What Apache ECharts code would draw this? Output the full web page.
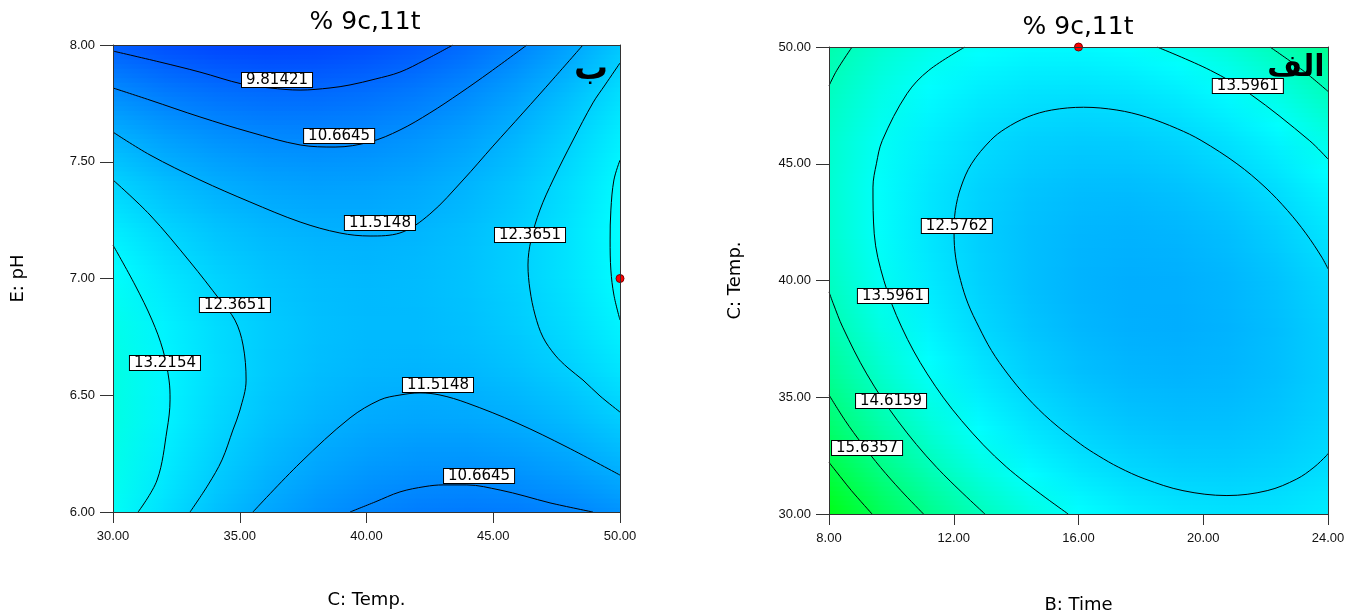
<!DOCTYPE html>
<html><head><meta charset="utf-8">
<script src="https://cdn.jsdelivr.net/npm/echarts@6/dist/echarts.min.js"></script>
<style>html,body{margin:0;padding:0;background:#fff}#c{width:1357px;height:614px}</style>
</head><body><div id="c"></div>
<script>
// ---------- DATA ----------
// Left panel: C: Temp. (x) vs E: pH (y)
const leftX = [30,32,34,36,38,40,42,44,46,48,50];
const leftY = [6.0,6.2,6.4,6.6,6.8,7.0,7.2,7.4,7.6,7.8,8.0];
const leftZ = [
 [13.59,12.73,12.00,11.40,10.93,10.60,10.39,10.32,10.38,10.58,10.90],
 [13.82,13.01,12.33,11.78,11.37,11.09,10.93,10.91,11.03,11.27,11.65],
 [13.95,13.19,12.56,12.06,11.70,11.47,11.37,11.40,11.56,11.85,12.28],
 [13.96,13.26,12.68,12.23,11.92,11.74,11.69,11.77,11.99,12.33,12.81],
 [13.82,13.17,12.64,12.25,11.98,11.85,11.86,11.99,12.26,12.65,13.18],
 [13.53,12.92,12.45,12.10,11.89,11.81,11.87,12.05,12.37,12.81,13.40],
 [13.07,12.52,12.09,11.80,11.64,11.61,11.72,11.95,12.32,12.82,13.45],
 [12.46,11.95,11.58,11.34,11.23,11.26,11.41,11.70,12.12,12.67,13.35],
 [11.69,11.23,10.91,10.72,10.67,10.74,10.95,11.28,11.75,12.36,13.09],
 [10.76,10.36,10.09,9.95,9.94,10.07,10.33,10.71,11.24,11.89,12.67],
 [9.67,9.32,9.10,9.02,9.06,9.24,9.55,9.99,10.56,11.26,12.10]
];
const L_9_81421 = [[30.00,7.974],[31.85,7.927],[33.43,7.884],[35.09,7.833],[36.19,7.816],[37.38,7.807],[38.56,7.816],[39.35,7.829],[40.34,7.854],[41.32,7.884],[42.31,7.936],[43.41,8.000]];
const L_10_6645_top = [[30.00,7.816],[31.46,7.764],[33.43,7.692],[35.40,7.627],[37.38,7.572],[38.76,7.563],[40.14,7.585],[41.32,7.636],[42.50,7.709],[43.69,7.794],[44.87,7.884],[46.33,8.000]];
const L_11_5148_top = [[30.00,7.627],[31.46,7.529],[33.43,7.422],[35.40,7.328],[37.38,7.242],[38.95,7.195],[40.14,7.182],[41.32,7.195],[42.50,7.276],[43.81,7.422],[44.99,7.567],[46.17,7.709],[47.36,7.854],[48.54,8.000]];
const L_12_3651_left = [[30.00,7.422],[31.46,7.272],[33.04,7.071],[34.22,6.908],[34.81,6.822],[35.13,6.715],[35.25,6.565],[35.01,6.437],[34.73,6.351],[34.30,6.223],[33.75,6.116],[33.04,6.000]];
const L_13_2154_left = [[30.00,7.143],[30.87,6.972],[31.54,6.822],[31.97,6.694],[32.21,6.565],[32.25,6.480],[32.13,6.351],[31.74,6.137],[30.99,6.000]];
const L_11_5148_bot = [[35.52,6.000],[37.38,6.210],[39.35,6.403],[40.53,6.480],[41.32,6.501],[42.11,6.510],[42.90,6.501],[43.96,6.467],[45.94,6.381],[47.91,6.278],[50.00,6.158]];
const L_10_6645_bot = [[39.35,6.000],[40.34,6.043],[41.32,6.086],[42.31,6.109],[43.02,6.116],[43.96,6.116],[45.27,6.094],[46.25,6.068],[47.24,6.039],[48.93,6.000]];
const L_12_3651_right = [[50.00,7.923],[49.41,7.829],[48.93,7.752],[48.15,7.593],[47.36,7.422],[46.84,7.293],[46.49,7.165],[46.37,7.058],[46.45,6.951],[46.65,6.844],[46.96,6.749],[47.44,6.672],[47.95,6.617],[48.54,6.565],[49.21,6.497],[50.00,6.428]];
const L_13_2154_right = [[50.00,7.507],[49.76,7.422],[49.64,7.293],[49.61,7.165],[49.64,7.036],[49.76,6.929],[50.00,6.822]];
const leftLabels = [["9.81421",36.47,7.850],["10.6645",38.92,7.610],["11.5148",40.53,7.238],["12.3651",46.45,7.186],["12.3651",34.81,6.887],["13.2154",32.05,6.638],["11.5148",42.82,6.544],["10.6645",44.44,6.154]];
const leftPoint = [[50,7.0]];

// Right panel: B: Time (x) vs C: Temp. (y)
const rightX = [8,9.6,11.2,12.8,14.4,16,17.6,19.2,20.8,22.4,24];
const rightY = [30,32,34,36,38,40,42,44,46,48,50];
const rightZ = [
 [17.64,16.51,15.54,14.71,14.03,13.50,13.11,12.88,12.79,12.84,13.05],
 [16.74,15.67,14.74,13.97,13.34,12.86,12.52,12.34,12.30,12.41,12.66],
 [15.98,14.96,14.09,13.36,12.79,12.36,12.07,11.94,11.95,12.11,12.42],
 [15.37,14.40,13.57,12.90,12.37,11.99,11.76,11.68,11.74,11.95,12.31],
 [14.89,13.97,13.20,12.57,12.10,11.77,11.59,11.55,11.67,11.93,12.34],
 [14.54,13.68,12.96,12.39,11.96,11.68,11.55,11.57,11.74,12.05,12.51],
 [14.34,13.53,12.86,12.34,11.96,11.74,11.66,11.73,11.94,12.31,12.82],
 [14.28,13.51,12.90,12.43,12.10,11.93,11.90,12.02,12.29,12.70,13.26],
 [14.35,13.64,13.07,12.65,12.38,12.26,12.28,12.45,12.77,13.23,13.85],
 [14.57,13.90,13.39,13.02,12.80,12.73,12.80,13.02,13.39,13.91,14.57],
 [14.92,14.31,13.84,13.52,13.35,13.33,13.46,13.73,14.15,14.72,15.43]
];
const R_12_5762 = [[24,40.5],[23.80,41.0],[23.30,42.0],[22.70,43.0],[21.98,44.0],[21.08,45.0],[19.93,46.0],[19.17,46.5],[18.18,47.0],[17.23,47.3],[16.16,47.42],[15.14,47.3],[14.36,47.0],[13.65,46.5],[13.18,46.0],[12.57,45.0],[12.23,44.0],[12.05,43.0],[12.01,42.0],[12.06,41.0],[12.22,40.0],[12.46,39.0],[12.81,38.0],[13.21,37.0],[13.73,36.0],[14.35,35.0],[15.11,34.0],[16.06,33.0],[16.63,32.5],[17.29,32.0],[18.13,31.5],[19.35,31.0],[20.76,30.79],[22.05,31.0],[23.0,31.5],[23.55,32.0],[23.95,32.5],[24,32.59]];
const R_13_5961_left = [[12.36,50],[11.20,49],[10.50,48],[9.71,46],[9.52,45],[9.41,44],[9.45,42],[9.76,40],[10.33,38],[11.15,36],[12.25,34],[13.70,32],[15.67,30]];
const R_13_5961_right = [[18.52,50],[20.23,49],[21.49,48],[23.40,46],[24,45.2]];
const R_14_6159_tl = [[8.74,50],[8.25,49],[8,48.34]];
const R_14_6159_tr = [[22.14,50],[23.19,49],[24,48.1]];
const R_14_6159_bl = [[8,39.51],[8.14,39],[8.44,38],[9.21,36],[10.20,34],[11.45,32],[13.00,30]];
const R_15_6357 = [[8,35.1],[8.52,34],[9.06,33],[9.65,32],[10.31,31],[11.03,30]];
const R_16_6555 = [[8,32.21],[8.42,31.5],[8.72,31],[9.38,30]];
const rightLabels = [["13.5961",21.43,48.33],["12.5762",12.10,42.33],["13.5961",10.05,39.34],["14.6159",9.99,34.84],["15.6357",9.22,32.83]];
const rightPoint = [[16,50]];

const titleText = "% 9c,11t";
const leftTag = "ب";
const rightTag = "الف";

// ---------- STYLE ----------
const cmap = [[7.46,0,0,255],[13.45,0,255,255],[18.0,0,255,0]];
function col(v){
  let a = cmap[0], b = cmap[cmap.length-1];
  if (v <= a[0]) return 'rgb(0,0,255)';
  for (let k=0;k<cmap.length-1;k++){ if (v>=cmap[k][0] && v<=cmap[k+1][0]) {a=cmap[k]; b=cmap[k+1]; break;} }
  if (v > b[0]) { a=b; }
  const t = b[0]===a[0] ? 0 : (v-a[0])/(b[0]-a[0]);
  const r = Math.round(a[1]+(b[1]-a[1])*t), g = Math.round(a[2]+(b[2]-a[2])*t), bl = Math.round(a[3]+(b[3]-a[3])*t);
  return 'rgb('+r+','+g+','+bl+')';
}
function cells(xs, ys){
  const out=[];
  for (let j=0;j<ys.length-1;j++) for (let i=0;i<xs.length-1;i++) out.push([(xs[i]+xs[i+1])/2,(ys[j]+ys[j+1])/2,i,j]);
  return out;
}
function makeRender(xs, ys, z){
  return function(params, api){
    const i = api.value(2), j = api.value(3);
    const v00=z[j][i], v10=z[j][i+1], v01=z[j+1][i], v11=z[j+1][i+1];
    const pA = api.coord([xs[i], ys[j]]), pB = api.coord([xs[i+1], ys[j+1]]);
    const left = Math.min(pA[0],pB[0]), right = Math.max(pA[0],pB[0]);
    const S = 10, children=[];
    for (let k=0;k<S;k++){
      const tA=k/S, tB=(k+1)/S, tm=(k+0.5)/S;
      const yA = pA[1]+(pB[1]-pA[1])*tA, yB = pA[1]+(pB[1]-pA[1])*tB;
      const vl = v00+(v01-v00)*tm, vr = v10+(v11-v10)*tm;
      children.push({type:'rect', shape:{x:left-0.5, y:Math.min(yA,yB)-0.5, width:right-left+1, height:Math.abs(yB-yA)+1},
        style:{fill:new echarts.graphic.LinearGradient(0,0,1,0,[{offset:0,color:col(vl)},{offset:1,color:col(vr)}])}});
    }
    return {type:'group', children:children};
  };
}
const frameColor = '#333';
function mainX(g,min,max,interval,name,gap){
  return {type:'value',gridIndex:g,min:min,max:max,interval:interval,position:'bottom',z:10,
    axisLine:{show:true,onZero:false,lineStyle:{color:frameColor,width:1}},
    axisTick:{show:true,inside:false,length:11,lineStyle:{color:frameColor}},
    axisLabel:{show:true,margin:18,formatter:v=>v.toFixed(2),color:'#111',fontSize:13,fontFamily:'Liberation Sans'},
    splitLine:{show:false},
    name:name,nameLocation:'middle',nameGap:gap,nameTextStyle:{fontFamily:'DejaVu Sans',fontSize:18,color:'#000'}};
}
function mainY(g,min,max,interval,name,gap){
  return {type:'value',gridIndex:g,min:min,max:max,interval:interval,position:'left',z:10,
    axisLine:{show:true,onZero:false,lineStyle:{color:frameColor,width:1}},
    axisTick:{show:true,inside:false,length:13,lineStyle:{color:frameColor}},
    axisLabel:{show:true,margin:18,formatter:v=>v.toFixed(2),color:'#111',fontSize:13,fontFamily:'Liberation Sans'},
    splitLine:{show:false},
    name:name,nameLocation:'middle',nameGap:gap,nameRotate:90,nameTextStyle:{fontFamily:'DejaVu Sans',fontSize:18,color:'#000'}};
}
function frameAxis(g,min,max,pos){
  return {type:'value',gridIndex:g,min:min,max:max,position:pos,z:10,
    axisLine:{show:true,onZero:false,lineStyle:{color:frameColor,width:1}},
    axisTick:{show:false},axisLabel:{show:false},splitLine:{show:false}};
}
function contour(data,xi,yi){
  return {type:'line',xAxisIndex:xi,yAxisIndex:yi,data:data,symbol:'none',smooth:0.35,silent:true,clip:true,
    lineStyle:{color:'#000',width:1},z:4,animation:false};
}
function labelSeries(list,xi,yi){
  return {type:'scatter',xAxisIndex:xi,yAxisIndex:yi,data:list.map(l=>[l[1],l[2],l[0]]),symbolSize:0,silent:true,clip:false,z:6,
    itemStyle:{opacity:1},
    label:{show:true,position:'inside',opacity:1,formatter:p=>p.value[2],backgroundColor:'#ffffff',borderColor:'#000',borderWidth:1,
      padding:[0,4],fontFamily:'DejaVu Sans',fontSize:15,lineHeight:14,color:'#000'}};
}
function pointSeries(data,xi,yi){
  return {type:'scatter',xAxisIndex:xi,yAxisIndex:yi,data:data,symbol:'circle',symbolSize:8,clip:false,silent:true,z:8,
    itemStyle:{color:'#ff0000',borderColor:'#7a0000',borderWidth:1,opacity:1}};
}

const chart = echarts.init(document.getElementById('c'),null,{renderer:'canvas'});
chart.setOption({
  animation:false,
  backgroundColor:'#fff',
  grid:[{left:113,top:45,width:507,height:467,containLabel:false,outerBoundsMode:'none'},
        {left:829,top:47,width:499,height:467,containLabel:false,outerBoundsMode:'none'}],
  xAxis:[mainX(0,30,50,5,'C: Temp.',79),frameAxis(0,30,50,'top'),mainX(1,8,24,4,'B: Time',82),frameAxis(1,8,24,'top')],
  yAxis:[mainY(0,6,8,0.5,'E: pH',86),frameAxis(0,6,8,'right'),mainY(1,30,50,5,'C: Temp.',85),frameAxis(1,30,50,'right')],
  graphic:[
    {type:'text',x:365,y:22,style:{text:titleText,font:'normal 25px "DejaVu Sans"',fill:'#000',textAlign:'center',textVerticalAlign:'middle',align:'center',verticalAlign:'middle'}},
    {type:'text',x:1078,y:27,style:{text:titleText,font:'normal 25px "DejaVu Sans"',fill:'#000',textAlign:'center',textVerticalAlign:'middle',align:'center',verticalAlign:'middle'}},
    {type:'text',x:591,y:70,z:20,style:{text:leftTag,font:'bold 34px "DejaVu Sans"',fill:'#000',textAlign:'center',textVerticalAlign:'middle',align:'center',verticalAlign:'middle'}},
    {type:'text',x:1296,y:68,z:20,style:{text:rightTag,font:'bold 30px "DejaVu Sans"',fill:'#000',textAlign:'center',textVerticalAlign:'middle',align:'center',verticalAlign:'middle'}}
  ],
  series:[
    {type:'custom',xAxisIndex:0,yAxisIndex:0,data:cells(leftX,leftY),renderItem:makeRender(leftX,leftY,leftZ),silent:true,clip:true,z:1},
    {type:'custom',xAxisIndex:2,yAxisIndex:2,data:cells(rightX,rightY),renderItem:makeRender(rightX,rightY,rightZ),silent:true,clip:true,z:1},
    contour(L_9_81421,0,0),contour(L_10_6645_top,0,0),contour(L_11_5148_top,0,0),contour(L_12_3651_left,0,0),
    contour(L_13_2154_left,0,0),contour(L_11_5148_bot,0,0),contour(L_10_6645_bot,0,0),contour(L_12_3651_right,0,0),contour(L_13_2154_right,0,0),
    contour(R_12_5762,2,2),contour(R_13_5961_left,2,2),contour(R_13_5961_right,2,2),contour(R_14_6159_tl,2,2),contour(R_14_6159_tr,2,2),
    contour(R_14_6159_bl,2,2),contour(R_15_6357,2,2),contour(R_16_6555,2,2),
    labelSeries(leftLabels,0,0),labelSeries(rightLabels,2,2),
    pointSeries(leftPoint,0,0),pointSeries(rightPoint,2,2)
  ]
});
</script></body></html>
